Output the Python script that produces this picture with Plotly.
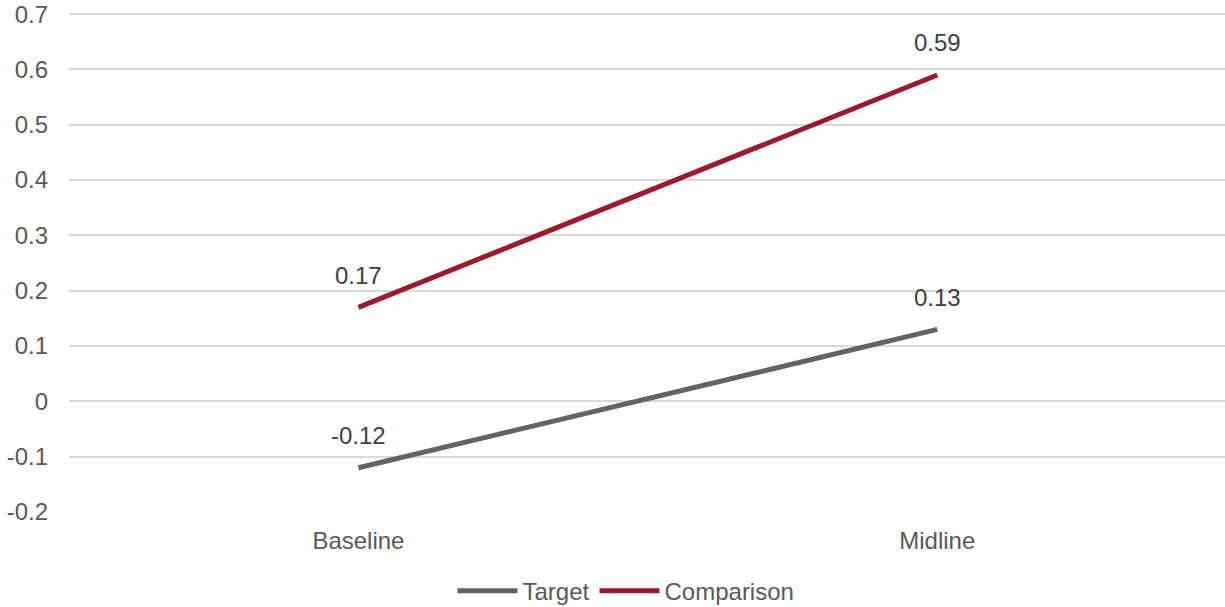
import plotly.graph_objects as go

categories = ["Baseline", "Midline"]
target = [-0.12, 0.13]
comparison = [0.17, 0.59]
y_ticks = [-0.2, -0.1, 0, 0.1, 0.2, 0.3, 0.4, 0.5, 0.6, 0.7]
y_tick_labels = ["-0.2", "-0.1", "0", "0.1", "0.2", "0.3", "0.4", "0.5", "0.6", "0.7"]

FONT = "Liberation Sans, Arial, sans-serif"
TXT = "#595959"
FS = 24

series = [("Target", target, "#636363"), ("Comparison", comparison, "#9B1B2E")]

fig = go.Figure()
for name, vals, col in series:
    fig.add_trace(go.Scatter(x=categories, y=vals, mode="lines", name=name,
                             line=dict(color=col, width=5), hoverinfo="skip"))

annotations = []
for name, vals, col in series:
    for c, v in zip(categories, vals):
        annotations.append(dict(x=c, y=v, text=f"{v:.2f}", showarrow=False,
                                yshift=32, font=dict(family=FONT, size=FS, color="#404040")))

fig.update_layout(
    width=1225, height=607,
    margin=dict(l=69, r=0, t=13, b=95, autoexpand=False),
    paper_bgcolor="white", plot_bgcolor="white",
    font=dict(family=FONT, size=FS, color=TXT),
    showlegend=True,
    legend=dict(orientation="h", xref="container", x=0.511, xanchor="center",
                yref="container", y=0.026, yanchor="middle",
                font=dict(family=FONT, size=FS, color=TXT), itemwidth=60,
                traceorder="normal"),
    annotations=annotations,
    xaxis=dict(type="category", range=[-0.5, 1.497], showgrid=False, zeroline=False,
               showline=False, ticks="", ticklabelstandoff=12, automargin=False,
               tickfont=dict(size=FS, color=TXT)),
    yaxis=dict(range=[-0.2, 0.702], tickvals=y_ticks, ticktext=y_tick_labels,
               showgrid=True, gridcolor="#D9D9D9", gridwidth=1.5, zeroline=False,
               showline=False, ticks="", ticklabelstandoff=20, automargin=False,
               tickfont=dict(size=FS, color=TXT)),
)

fig.write_html("out.html", config={"displayModeBar": False},
               post_script="document.body.style.margin='0';document.body.style.overflow='hidden';")
